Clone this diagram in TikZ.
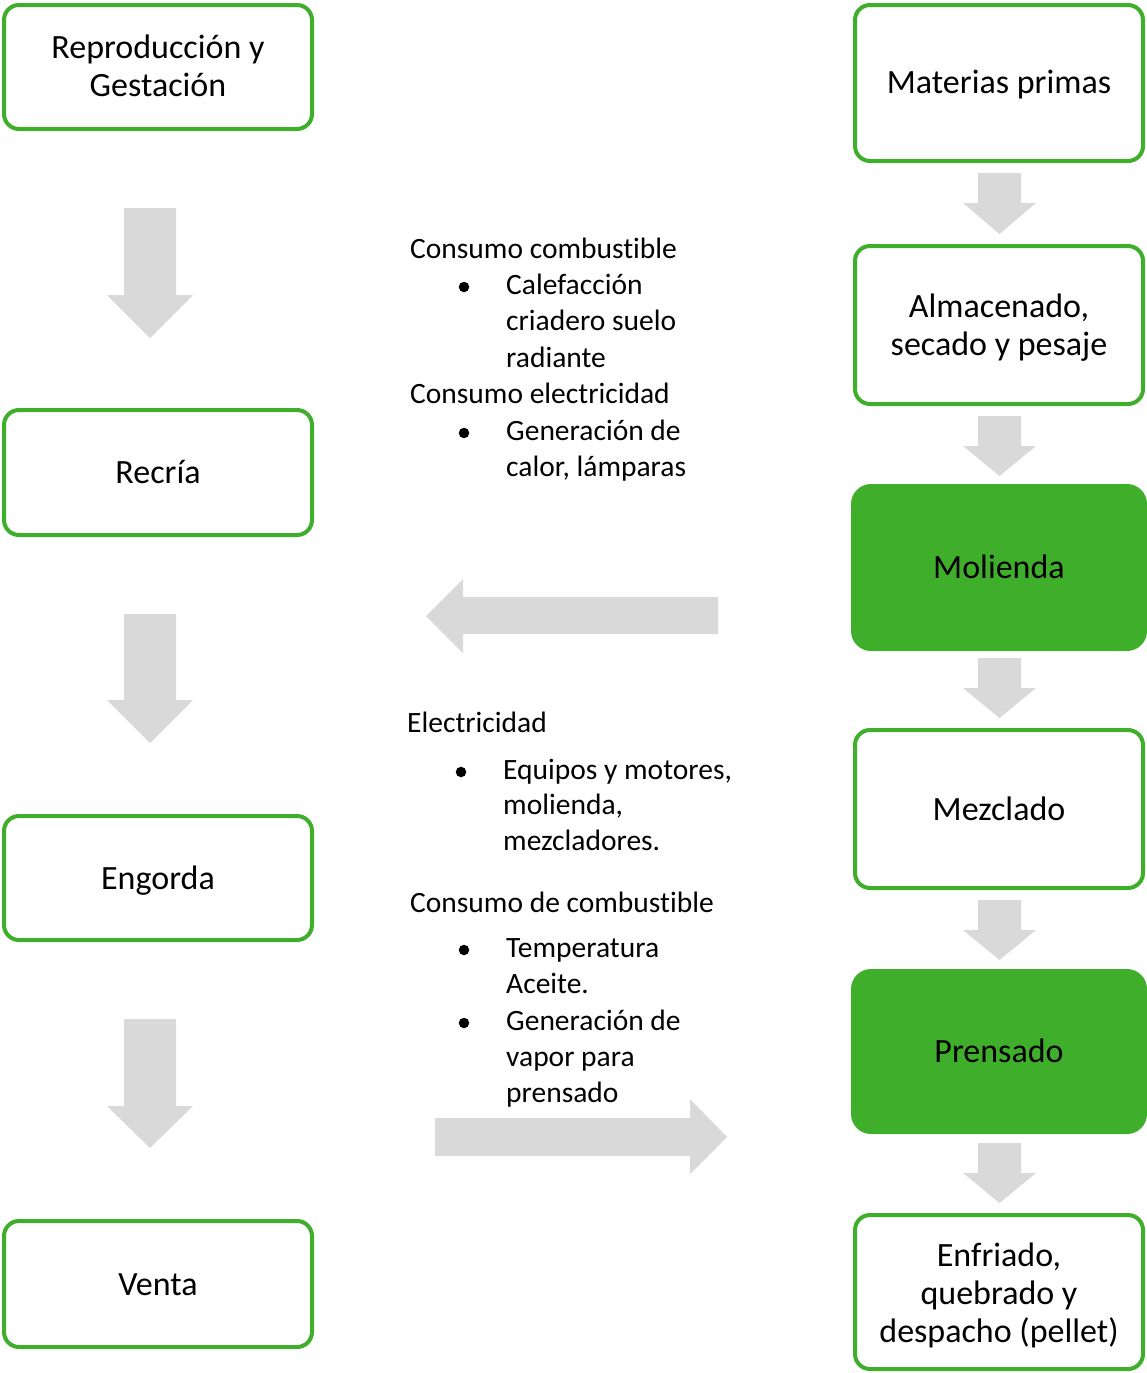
\documentclass[tikz,border=0pt]{standalone}
\usepackage{fontspec}
\setmainfont[Ligatures=NoCommon]{Carlito}
\definecolor{boxgreen}{RGB}{63,174,42}
\definecolor{arrgray}{RGB}{217,217,217}
\begin{document}
\begin{tikzpicture}[x=1pt,y=-1pt,
  obox/.style={draw=boxgreen, line width=4pt, rounded corners=15pt, fill=white,
    inner sep=0pt},
  fbox/.style={fill=boxgreen, rounded corners=20pt, inner sep=0pt},
  btxt/.style={inner sep=0pt, align=center, font=\fontsize{34}{38}\selectfont},
  lt/.style={anchor=base west, inner sep=0pt, font=\fontsize{29.5}{36}\selectfont},
  blk/.style={fill=arrgray, draw=none},
  bul/.style={fill=black, circle, inner sep=0pt, minimum size=10.5pt}]
\useasboundingbox (0,0) rectangle (1147,1373);

% left column
\node[obox, minimum width=308pt, minimum height=124pt] (repro) at (158,67) {};
\node[btxt] (repro-t) at ([yshift=1pt]repro.center) {Reproducción y\\Gestación};
\node[obox, minimum width=308pt, minimum height=125pt] (recria) at (158,472.5) {};
\node[btxt] (recria-t) at (recria.center) {Recría};
\node[obox, minimum width=308pt, minimum height=124pt] (engorda) at (158,878) {};
\node[btxt] (engorda-t) at ([yshift=-3pt]engorda.center) {Engorda};
\node[obox, minimum width=308pt, minimum height=126pt] (venta) at (158,1284) {};
\node[btxt] (venta-t) at ([yshift=-1pt]venta.center) {Venta};

% right column
\node[obox, minimum width=288pt, minimum height=156pt] (materias) at (999,83) {};
\node[btxt] (materias-t) at ([yshift=-2pt]materias.center) {Materias primas};
\node[obox, minimum width=288pt, minimum height=158pt] (almac) at (999,325) {};
\node[btxt] (almac-t) at ([yshift=-2.5pt]almac.center) {Almacenado,\\secado y pesaje};
\node[fbox, minimum width=296pt, minimum height=167pt] (molienda) at (999,567.5) {};
\node[btxt] (molienda-t) at ([yshift=1pt]molienda.center) {Molienda};
\node[obox, minimum width=288pt, minimum height=158pt] (mezclado) at (999,809) {};
\node[btxt] (mezclado-t) at ([yshift=0.5pt]mezclado.center) {Mezclado};
\node[fbox, minimum width=296pt, minimum height=165pt] (prensado) at (999,1051.5) {};
\node[btxt] (prensado-t) at ([yshift=0.5pt]prensado.center) {Prensado};
\node[obox, minimum width=288pt, minimum height=154pt] (enfriado) at (999,1292) {};
\node[btxt] (enfriado-t) at ([yshift=-3.5pt]enfriado.center) {Enfriado,\\quebrado y\\despacho (pellet)};

% left big down arrows
\foreach \t/\h/\p in {208/295/338, 614/700/743, 1019/1106/1148}{
  \fill[blk] (124,\t) -- (176,\t) -- (176,\h) -- (193,\h) -- (150,\p) -- (107,\h) -- (124,\h) -- cycle;
}
% right small down arrows
\foreach \t/\h/\p in {173/203/234, 416/446/476, 658/688/718, 900/930/960, 1143/1173/1203}{
  \fill[blk] (978,\t) -- (1021,\t) -- (1021,\h) -- (1036,\h) -- (999.5,\p) -- (963,\h) -- (978,\h) -- cycle;
}
% horizontal arrows
\fill[blk] (718,597) -- (463,597) -- (463,579) -- (426,616) -- (463,653) -- (463,634) -- (718,634) -- cycle;
\fill[blk] (435,1118) -- (690,1118) -- (690,1099) -- (727,1137) -- (690,1174) -- (690,1156) -- (435,1156) -- cycle;

% text block 1
\node[lt] (t1a) at (410,258) {Consumo combustible};
\node[bul] (b1a) at (464,287) {};
\node[lt] (t1b) at (506,294) {Calefacción};
\node[lt] (t1c) at (506,330) {criadero suelo};
\node[lt] (t1d) at (506,367) {radiante};
\node[lt] (t1e) at (410,403) {Consumo electricidad};
\node[bul] (b1b) at (464,433) {};
\node[lt] (t1f) at (506,440) {Generación de};
\node[lt] (t1g) at (506,476) {calor, lámparas};

% text block 2
\node[lt] (t2a) at (407,732) {Electricidad};
\node[bul] (b2a) at (461,772) {};
\node[lt] (t2b) at (503,779) {Equipos y motores,};
\node[lt] (t2c) at (503,814) {molienda,};
\node[lt] (t2d) at (503,850) {mezcladores.};

% text block 3
\node[lt] (t3a) at (410,912) {Consumo de combustible};
\node[bul] (b3a) at (464,950) {};
\node[lt] (t3b) at (506,957) {Temperatura};
\node[lt] (t3c) at (506,993) {Aceite.};
\node[bul] (b3b) at (464,1023) {};
\node[lt] (t3d) at (506,1030) {Generación de};
\node[lt] (t3e) at (506,1066) {vapor para};
\node[lt] (t3f) at (506,1102) {prensado};
\end{tikzpicture}
\end{document}
